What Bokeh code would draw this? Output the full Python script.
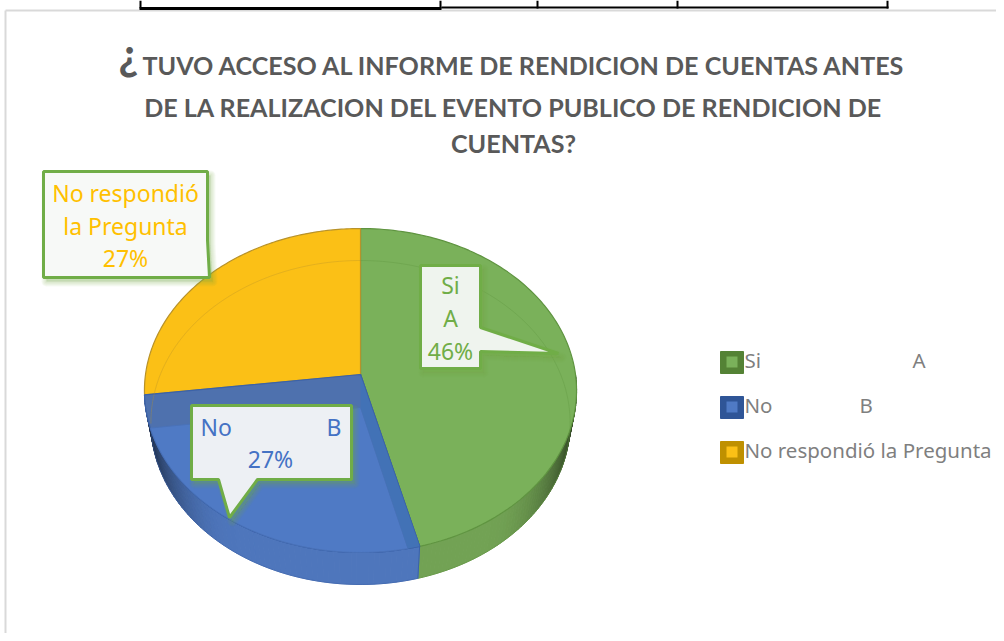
import math
from bokeh.plotting import figure
from bokeh.models import Range1d
from bokeh.core.properties import value
from bokeh.embed import file_html
from bokeh.resources import INLINE

# ---- data ----
categories = ["Si", "No", "No respondió la Pregunta"]
tags = ["A", "B", ""]
percent = [46, 27, 27]
title_mark = "¿"
title_lines = ["TUVO ACCESO AL INFORME DE RENDICION DE CUENTAS ANTES",
               "DE LA REALIZACION DEL EVENTO PUBLICO DE RENDICION DE",
               "CUENTAS?"]

# ---- styles ----
LATO = value("Lato")
NOTO = value("Noto Sans")
top_col = ["#7AB15A", "#4F7AC5", "#FBC016"]
edge_col = ["#5F9440", "#3B62A8", "#B8922A"]
side_col = [(114, 162, 84), (78, 118, 188), (200, 150, 20)]
sw_out = ["#548235", "#2F5597", "#BF9000"]
label_col = ["#70AD47", "#4472C4", "#FFC000"]
GREEN = "#70AD47"

p = figure(width=996, height=633, x_range=Range1d(0, 996), y_range=Range1d(633, 0),
           output_backend="svg", toolbar_location=None, min_border=0)
p.axis.visible = False
p.grid.visible = False
p.outline_line_color = None
p.background_fill_color = "#FFFFFF"

# ---- frame of the chart and the table above it ----
p.segment([5, 5], [10, 10], [5, 996], [633, 10], line_color="#D9D9D9", line_width=2)
p.segment([139], [8], [441], [8], line_color="#000000", line_width=3)
p.segment([441], [7], [888], [7], line_color="#000000", line_width=2)
p.segment([140, 440, 537, 677, 887], [0] * 5, [140, 440, 537, 677, 887], [8] * 5,
          line_color="#000000", line_width=2)

# ---- perspective projection of the pie disc ----
CX, CY, A, B, K, DEPTH, SHRINK = 360, 374, 215, 160.4, 0.0988, 32, 0.97


def top(th):
    u, v = math.sin(th), math.cos(th)
    w = 1 + K * v
    return CX + A * u / w, CY - B * v / w


def low(th):
    x, y = top(th)
    return CX + SHRINK * (x - CX), y + DEPTH


def frange(a, b, n=120):
    return [a + (b - a) * i / n for i in range(n + 1)]


total = sum(percent)
bounds = [0.0]
for val in percent:
    bounds.append(bounds[-1] + 2 * math.pi * val / total)

# side wall, shaded towards the far ends
for i in range(2):
    a, b = max(bounds[i], math.pi / 2), bounds[i + 1]
    ts = frange(a, b, 70)
    for t0, t1 in zip(ts[:-1], ts[1:]):
        x0, y0 = top(t0); x1, y1 = top(t1)
        x2, y2 = low(t1); x3, y3 = low(t0)
        s = abs(math.sin((t0 + t1) / 2))
        f = 1.0 if s < 0.55 else 1 - 0.65 * ((s - 0.55) / 0.45) ** 2.0
        c = "#%02X%02X%02X" % tuple(int(q * f) for q in side_col[i])
        p.patch([x0, x1, x2, x3], [y0, y1, y2, y3], fill_color=c, line_color=c, line_width=1)
    lx, ly = zip(*[low(t) for t in ts])
    p.line(list(lx), list(ly), line_color=edge_col[i], line_width=1, line_alpha=0.5)

# top surface
for i in range(3):
    pts = [(CX, CY)] + [top(t) for t in frange(bounds[i], bounds[i + 1])]
    xs, ys = zip(*pts)
    p.patch(list(xs), list(ys), fill_color=top_col[i], line_color=edge_col[i], line_width=1.2)

x0, y0 = top(bounds[1]); x1, y1 = low(bounds[1])
p.line([x0, x1], [y0, y1], line_color="#3B62A8", line_width=1)

# blue slice: darker inner wall, lighter floor
blue_band = [(CX, CY)] + [top(t) for t in frange(bounds[1], bounds[2])]
xs, ys = zip(*blue_band)
p.patch(list(xs), list(ys), fill_color="#4E71AE", line_color="#3B62A8", line_width=1.2)
cfx, cfy = CX, CY + DEPTH + 1
ex0, ey0 = top(bounds[2])
ex1, ey1 = top(bounds[1])
dl = (ex0 - CX, ey0 - CY)
dr = (ex1 - CX, ey1 - CY)
floor = []
for t in frange(bounds[1], bounds[2], 300):
    x, y = top(t)
    rx, ry = x - cfx, y - cfy
    if dr[0] * ry - dr[1] * rx >= 0 and dl[0] * ry - dl[1] * rx <= 0:
        floor.append((x, y))
pts = [(cfx, cfy)] + floor
xs, ys = zip(*pts)
p.patch(list(xs), list(ys), fill_color="#4F7AC5", line_color="#4A72B8", line_width=1)
ax, ay = floor[0]
bx, by = top(bounds[1])
p.patch([CX, bx, ax, cfx], [CY + 1, by, ay, cfy], fill_color="#4272B6", line_color=None)

# faint far rim seen through the surface, on the yellow and green slices
ts = frange(bounds[2] + 0.02, bounds[3], 120)
lx, ly = zip(*[low(t) for t in ts])
p.line(list(lx), list(ly), line_color=edge_col[2], line_width=1, line_alpha=0.35)
ts = frange(0, 1.72, 120)
lx, ly = zip(*[low(t) for t in ts])
p.line(list(lx), list(ly), line_color=edge_col[0], line_width=1, line_alpha=0.35)


# ---- callouts ----
def callout(xs, ys, fill):
    for g in range(1, 6):
        p.patch([x + 3 for x in xs], [y + 4 for y in ys], fill_color=GREEN, fill_alpha=0.05,
                line_color=GREEN, line_alpha=0.06, line_width=2 * g, line_join="round")
    p.patch(xs, ys, fill_color=fill, line_color=GREEN, line_width=3)


callout([43, 207, 207, 209, 207, 43], [171, 171, 240, 277, 277, 277], "#F7F9F7")
callout([420, 480, 480, 558, 480, 480, 420], [265, 265, 327, 353, 351, 368, 368], "#EFF4EE")
callout([191, 351, 351, 257, 229, 218, 191], [405, 405, 479, 479, 517, 479, 479], "#EDF0F4")


def put(x, y, s, col, size, align="center", style="normal", font=NOTO):
    # y is the wanted baseline; the SVG text lands about 0.39 em lower
    p.text([x], [y - 0.39 * size], text=[s], text_color=col, text_font=font,
           text_font_size=f"{size}px", text_align=align, text_baseline="alphabetic",
           text_font_style=style)


pct = [f"{v}%" for v in percent]
LS = 23
put(125, 201, "No respondió", label_col[2], LS)
put(125, 234, "la Pregunta", label_col[2], LS)
put(125, 266, pct[2], label_col[2], LS)
put(450, 293, categories[0], label_col[0], LS)
put(450, 326, tags[0], label_col[0], LS)
put(450, 359, pct[0], label_col[0], LS)
put(200, 435, categories[1], label_col[1], LS, "left")
put(341, 435, tags[1], label_col[1], LS, "right")
put(270, 467, pct[1], label_col[1], LS)

# ---- title ----
TS = 25.1
put(118, 70, title_mark, "#595959", 44, "left", "bold", LATO)
put(142, 74, title_lines[0], "#595959", TS, "left", "bold", LATO)
put(513, 116, title_lines[1], "#595959", TS, "center", "bold", LATO)
put(513, 152, title_lines[2], "#595959", TS, "center", "bold", LATO)

# ---- legend ----
leg_y = [362, 407, 452]
tag_x = [912, 859, None]
for i, name in enumerate(categories):
    y = leg_y[i]
    p.patch([720, 743, 743, 720], [y - 11, y - 11, y + 11, y + 11], fill_color=sw_out[i],
            line_color=sw_out[i], line_width=1, line_join="round")
    p.patch([726, 737, 737, 726], [y - 6, y - 6, y + 5, y + 5], fill_color=top_col[i], line_color=None)
    put(744, y + 5, name, "#7F7F7F", 20.5, "left")
    if tags[i]:
        put(tag_x[i], y + 5, tags[i], "#7F7F7F", 20.5, "left")

open("out.html", "w").write(file_html(p, INLINE))
